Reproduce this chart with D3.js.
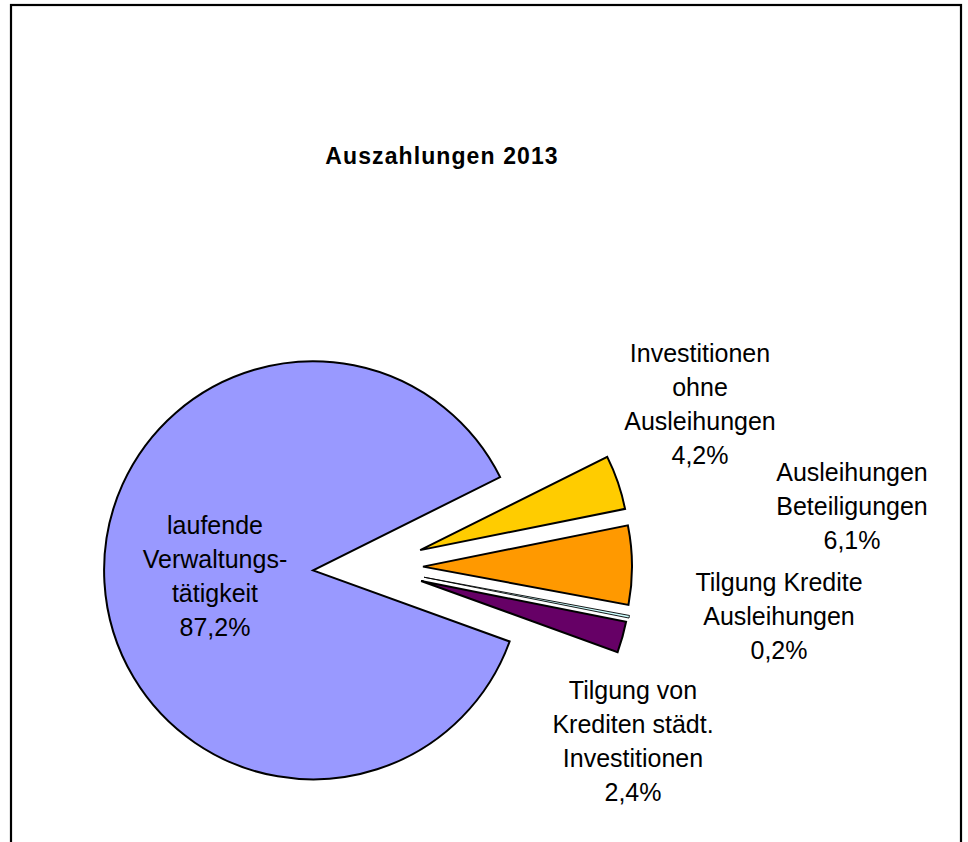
<!DOCTYPE html>
<html>
<head>
<meta charset="utf-8">
<script src="https://cdn.jsdelivr.net/npm/d3@7"></script>
<style>
  html, body { margin: 0; padding: 0; background: #fff; }
  svg { display: block; }
  text { font-family: "Liberation Sans", Arial, sans-serif; fill: #000; }
</style>
</head>
<body>
<svg id="chart" width="968" height="842"></svg>
<script>
// ---- data ----
const title = "Auszahlungen 2013";
const categories = [
  "laufende Verwaltungstätigkeit",
  "Investitionen ohne Ausleihungen",
  "Ausleihungen Beteiligungen",
  "Tilgung Kredite Ausleihungen",
  "Tilgung von Krediten städt. Investitionen"
];
const values = [87.2, 4.2, 6.1, 0.2, 2.4];
const valueLabels = ["87,2%", "4,2%", "6,1%", "0,2%", "2,4%"];
const labelLines = [
  ["laufende", "Verwaltungs-", "tätigkeit"],
  ["Investitionen", "ohne", "Ausleihungen"],
  ["Ausleihungen", "Beteiligungen"],
  ["Tilgung Kredite", "Ausleihungen"],
  ["Tilgung von", "Krediten städt.", "Investitionen"]
];

// ---- styles / layout ----
const colors = ["#9999FF", "#FFCC00", "#FF9900", "#CCFFFF", "#660066"];
const explode = [58, 52, 52, 54, 52];
const labelPos = [[215, 534], [700, 362], [852, 481], [779, 591], [633, 699]];
const cx = 371, cy = 567, radius = 209;
const startDeg = 109.9;
const lineH = 34;

const svg = d3.select("#chart");

// frame
svg.append("rect")
  .attr("x", 11).attr("y", 5)
  .attr("width", 950).attr("height", 860)
  .attr("fill", "none").attr("stroke", "#000").attr("stroke-width", 2.2);

// title
svg.append("text")
  .attr("x", 442).attr("y", 164)
  .attr("text-anchor", "middle")
  .style("font-size", "23px").style("font-weight", "bold")
  .style("letter-spacing", "1.1px")
  .text(title);

const data = categories.map((c, i) => ({ name: c, value: values[i], i }));
const start = startDeg * Math.PI / 180;
const pie = d3.pie().value(d => d.value).sort(null)
  .startAngle(start).endAngle(start + 2 * Math.PI);
const arc = d3.arc().innerRadius(0).outerRadius(radius);
const arcs = pie(data);

const g = svg.append("g").attr("transform", `translate(${cx},${cy})`);
g.selectAll("path.slice")
  .data(arcs)
  .join("path")
  .attr("class", "slice")
  .attr("d", arc)
  .attr("transform", d => {
    const m = (d.startAngle + d.endAngle) / 2;
    const e = explode[d.data.i];
    return `translate(${e * Math.sin(m)},${-e * Math.cos(m)})`;
  })
  .attr("fill", d => colors[d.data.i])
  .attr("stroke", "#000")
  .attr("stroke-width", d => d.data.value < 1 ? 0.9 : 2)
  .attr("stroke-linejoin", "miter");

// labels
arcs.forEach(d => {
  const i = d.data.i;
  const lines = labelLines[i].concat([valueLabels[i]]);
  const t = svg.append("text")
    .attr("text-anchor", "middle")
    .style("font-size", "25px");
  lines.forEach((ln, k) => {
    t.append("tspan")
      .attr("x", labelPos[i][0])
      .attr("y", labelPos[i][1] + k * lineH)
      .text(ln);
  });
});
</script>
</body>
</html>
